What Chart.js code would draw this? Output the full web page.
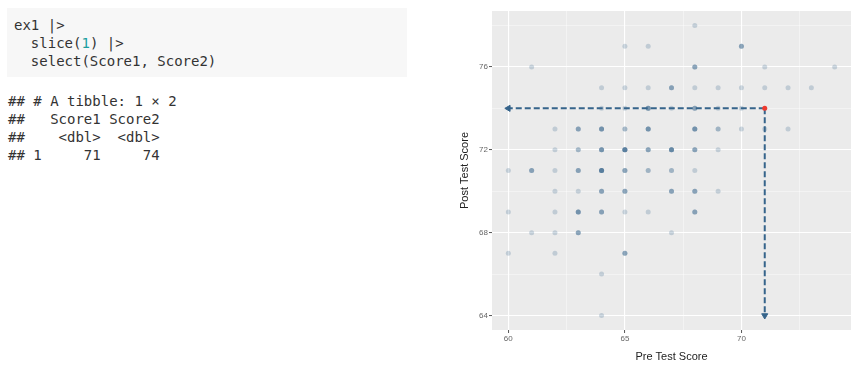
<!DOCTYPE html>
<html>
<head>
<meta charset="utf-8">
<script src="https://cdn.jsdelivr.net/npm/chart.js@4"></script>
<style>
  html, body { margin: 0; padding: 0; background: #fff; width: 860px; height: 368px; overflow: hidden; }
  .code, .out {
    position: absolute; margin: 0;
    font-family: "DejaVu Sans Mono", monospace; font-size: 14px; line-height: 18px;
    white-space: pre;
  }
  .code { left: 7px; top: 8px; width: 393px; padding: 8px 0 7px 7px; background: #f7f7f7; color: #333; }
  .code .num { color: #1b9e9e; }
  .out { left: 8px; top: 92px; color: #333; }
  #wrap { position: absolute; left: 440px; top: 0; width: 420px; height: 368px; }
</style>
</head>
<body>
<pre class="code">ex1 |&gt;
  slice(<span class="num">1</span>) |&gt;
  select(Score1, Score2)</pre>
<pre class="out">## # A tibble: 1 × 2
##   Score1 Score2
##    &lt;dbl&gt;  &lt;dbl&gt;
## 1     71     74</pre>
<div id="wrap"><canvas id="chart" width="420" height="368"></canvas></div>
<script>
// observed (pre, post) pairs and how many students share each one
const preScores  = [68, 65,66,70, 61,68,71,74, 64,65,66,67,68,69,70,71,72,73,
                    64,65,66,67,68,69,70, 62,63,64,65,66,68,69,70,71,72,
                    62,63,64,65,66,67,68,69, 60,61,62,63,64,65,66,67,68,
                    62,63,64,65,67,68,69, 60,62,63,64,65,66,68, 61,62,63,67,
                    60,62,65, 64, 64];
const postScores = [78, 77,77,77, 76,76,76,76, 75,75,75,75,75,75,75,75,75,75,
                    74,74,74,74,74,74,74, 73,73,73,73,73,73,73,73,73,73,
                    72,72,72,72,72,72,72,72, 71,71,71,71,71,71,71,71,71,
                    70,70,70,70,70,70,70, 69,69,69,69,69,69,69, 68,68,68,68,
                    67,67,67, 66, 64];
const pairCounts = [1, 1,1,3, 1,3,1,1, 1,1,1,3,1,1,1,1,1,1,
                    1,1,4,1,3,1,1, 1,3,4,2,4,4,2,1,1,1,
                    1,2,4,6,3,5,3,1, 1,3,1,3,6,3,2,2,1,
                    1,1,3,3,3,3,1, 1,1,4,3,1,1,3, 1,1,3,1,
                    1,1,3, 1, 1];

// highlighted student ex1
const ex1Pre = 71;
const ex1Post = 74;

const xMajor = [60, 65, 70];
const xMinor = [62.5, 67.5, 72.5];
const yMajor = [64, 68, 72, 76];
const yMinor = [66, 70, 74, 78];

const xLimits = [59.3, 74.7];
const yLimits = [63.3, 78.7];

const pts = [];
preScores.forEach((x, i) => {
  for (let k = 0; k < pairCounts[i]; k++) pts.push({ x: x, y: postScores[i] });
});

const panelBg = {
  id: 'panelBg',
  beforeDraw(chart) {
    const { ctx, chartArea: a } = chart;
    ctx.save();
    ctx.fillStyle = '#ebebeb';
    ctx.fillRect(a.left, a.top, a.right - a.left, a.bottom - a.top);
    ctx.restore();
  }
};

const gridOpts = (major) => ({
  color: c => major.includes(c.tick.value) ? '#ffffff' : 'rgba(255,255,255,0.75)',
  lineWidth: c => major.includes(c.tick.value) ? 1.1 : 0.55,
  tickColor: c => major.includes(c.tick.value) ? '#555' : 'rgba(0,0,0,0)',
  tickLength: 3,
  tickWidth: 1
});

const steel = '#36648b';

new Chart(document.getElementById('chart'), {
  type: 'scatter',
  data: {
    datasets: [
      {
        data: [{ x: ex1Pre, y: ex1Post }],
        backgroundColor: '#ee3b30',
        borderWidth: 0,
        pointRadius: 2.5,
        order: 0
      },
      {
        data: [{ x: ex1Pre, y: ex1Post }, { x: xMajor[0], y: ex1Post }],
        showLine: true,
        borderColor: steel,
        borderWidth: 2,
        borderDash: [6, 3],
        backgroundColor: steel,
        pointBorderWidth: 1,
        pointStyle: 'triangle',
        pointRadius: [0, 3.5],
        pointRotation: 270,
        order: 1
      },
      {
        data: [{ x: ex1Pre, y: ex1Post }, { x: ex1Pre, y: yMajor[0] }],
        showLine: true,
        borderColor: steel,
        borderWidth: 2,
        borderDash: [6, 3],
        backgroundColor: steel,
        pointBorderWidth: 1,
        pointStyle: 'triangle',
        pointRadius: [0, 3.5],
        pointRotation: 180,
        order: 1
      },
      {
        data: pts,
        backgroundColor: 'rgba(54,100,139,0.23)',
        borderWidth: 0,
        pointRadius: 2.5,
        order: 2
      }
    ]
  },
  options: {
    responsive: false,
    animation: false,
    events: [],
    layout: { padding: { top: 11, right: 9, left: 0, bottom: 0 } },
    plugins: { legend: { display: false }, tooltip: { enabled: false } },
    scales: {
      x: {
        type: 'linear',
        min: xLimits[0],
        max: xLimits[1],
        afterBuildTicks: s => { s.ticks = xMajor.concat(xMinor).sort((a, b) => a - b).map(v => ({ value: v })); },
        afterFit: s => { s.height = 38; },
        grid: gridOpts(xMajor),
        border: { display: false },
        ticks: {
          autoSkip: false, maxRotation: 0, padding: 1,
          color: '#666', font: { family: 'Liberation Sans', size: 8 },
          callback: v => xMajor.includes(v) ? String(v) : ''
        },
        title: {
          display: true, text: 'Pre Test Score', color: '#222',
          font: { family: 'Liberation Sans', size: 11 },
          padding: { top: 0, bottom: 4.2 }
        }
      },
      y: {
        type: 'linear',
        min: yLimits[0],
        max: yLimits[1],
        afterBuildTicks: s => { s.ticks = yMajor.concat(yMinor).sort((a, b) => a - b).map(v => ({ value: v })); },
        afterFit: s => { s.width = 52; },
        grid: gridOpts(yMajor),
        border: { display: false },
        ticks: {
          autoSkip: false, padding: 1,
          color: '#666', font: { family: 'Liberation Sans', size: 8 },
          callback: v => yMajor.includes(v) ? String(v) : ''
        },
        title: {
          display: true, text: 'Post Test Score', color: '#222',
          font: { family: 'Liberation Sans', size: 11 },
          padding: { top: 18, bottom: 0 }
        }
      }
    }
  },
  plugins: [panelBg]
});
</script>
</body>
</html>
